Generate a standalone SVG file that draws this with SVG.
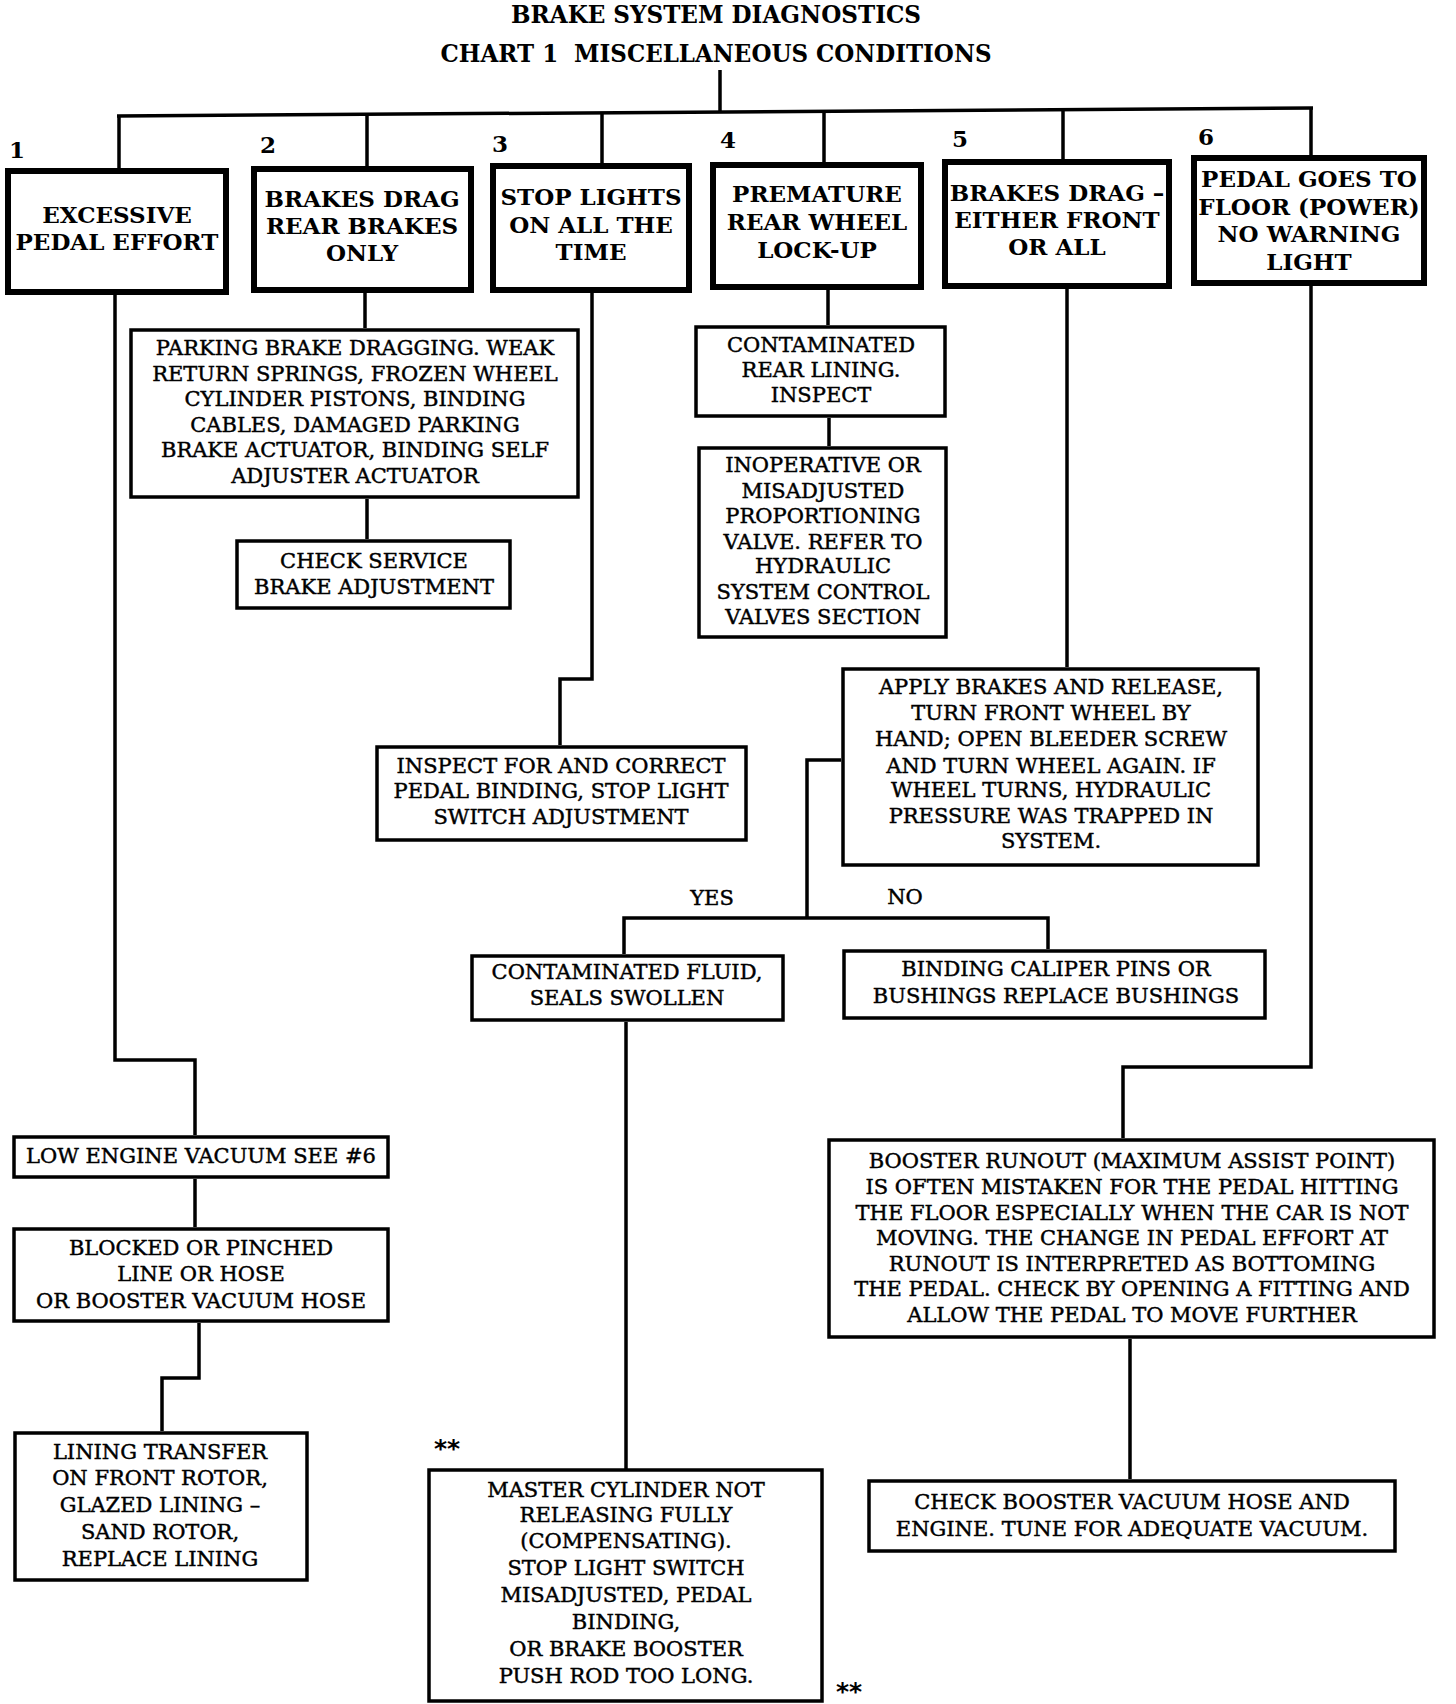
<svg xmlns="http://www.w3.org/2000/svg" width="1456" height="1704" viewBox="0 0 1456 1704">
<style>
  .bg{fill:#fff}
  .hbox{fill:#fff;stroke:#000;stroke-width:6}
  .box{fill:#fff;stroke:#000;stroke-width:3.5}
  .ln{fill:none;stroke:#000;stroke-width:3.5;stroke-linejoin:miter}
  .title{font-family:"DejaVu Serif","Liberation Serif",serif;font-weight:bold;font-size:25px;text-anchor:middle;fill:#000}
  .hd{font-family:"DejaVu Serif","Liberation Serif",serif;font-weight:bold;font-size:23px;text-anchor:middle;fill:#000}
  .num{font-family:"DejaVu Serif","Liberation Serif",serif;font-weight:bold;font-size:23px;fill:#000}
  .tx{font-family:"DejaVu Serif","Liberation Serif",serif;font-size:21px;text-anchor:middle;fill:#000;stroke:#000;stroke-width:0.45}
  .lab{font-family:"DejaVu Serif","Liberation Serif",serif;font-size:21px;text-anchor:middle;fill:#000;stroke:#000;stroke-width:0.45}
  .star{font-family:"DejaVu Sans","Liberation Sans",sans-serif;font-weight:bold;font-size:25px;fill:#000}
</style>
<rect class="bg" x="0" y="0" width="1456" height="1704"/>

<g id="title">
  <text class="title" x="716" y="23" textLength="410" lengthAdjust="spacingAndGlyphs">BRAKE SYSTEM DIAGNOSTICS</text>
  <text class="title" x="716" y="62" xml:space="preserve" textLength="551" lengthAdjust="spacingAndGlyphs">CHART 1  MISCELLANEOUS CONDITIONS</text>
</g>

<g id="connectors">
  <line class="ln" x1="720" y1="70" x2="720" y2="113"/>
  <line class="ln" x1="117" y1="116" x2="1313" y2="108"/>
  <line class="ln" x1="119" y1="116" x2="119" y2="168"/>
  <line class="ln" x1="367" y1="114" x2="367" y2="166"/>
  <line class="ln" x1="602" y1="113" x2="602" y2="163"/>
  <line class="ln" x1="824" y1="111" x2="824" y2="162"/>
  <line class="ln" x1="1063" y1="110" x2="1063" y2="159"/>
  <line class="ln" x1="1311" y1="108" x2="1311" y2="155"/>

  <polyline class="ln" points="115,295 115,1060 195,1060 195,1135"/>
  <line class="ln" x1="195" y1="1179" x2="195" y2="1227"/>
  <polyline class="ln" points="199,1323 199,1378 162,1378 162,1431"/>

  <line class="ln" x1="365" y1="293" x2="365" y2="328"/>
  <line class="ln" x1="367" y1="499" x2="367" y2="539"/>

  <polyline class="ln" points="592,293 592,679 560,679 560,745"/>

  <line class="ln" x1="828" y1="290" x2="828" y2="325"/>
  <line class="ln" x1="829" y1="418" x2="829" y2="446"/>

  <line class="ln" x1="1067" y1="289" x2="1067" y2="667"/>
  <polyline class="ln" points="841,760 807,760 807,918"/>
  <polyline class="ln" points="624,954 624,918 1048,918 1048,949"/>
  <line class="ln" x1="626" y1="1022" x2="626" y2="1469"/>

  <polyline class="ln" points="1311,286 1311,1067 1123,1067 1123,1138"/>
  <line class="ln" x1="1130" y1="1339" x2="1130" y2="1479"/>
</g>

<g id="labels">
  <text class="lab" x="712" y="905">YES</text>
  <text class="lab" x="905" y="904">NO</text>
  <text class="star" x="434" y="1457">**</text>
  <text class="star" x="836" y="1700">**</text>
</g>

<g id="h1">
  <text class="num" x="9" y="158">1</text>
  <rect class="hbox" x="8" y="171" width="218" height="121"/>
  <text class="hd" x="117" y="223">EXCESSIVE</text>
  <text class="hd" x="117" y="250">PEDAL EFFORT</text>
</g>
<g id="h2">
  <text class="num" x="260" y="153">2</text>
  <rect class="hbox" x="254" y="169" width="217" height="121"/>
  <text class="hd" x="362" y="207">BRAKES DRAG</text>
  <text class="hd" x="362" y="234">REAR BRAKES</text>
  <text class="hd" x="362" y="261">ONLY</text>
</g>
<g id="h3">
  <text class="num" x="492" y="152">3</text>
  <rect class="hbox" x="493" y="166" width="196" height="124"/>
  <text class="hd" x="591" y="205">STOP LIGHTS</text>
  <text class="hd" x="591" y="233">ON ALL THE</text>
  <text class="hd" x="591" y="260">TIME</text>
</g>
<g id="h4">
  <text class="num" x="720" y="148">4</text>
  <rect class="hbox" x="713" y="165" width="208" height="122"/>
  <text class="hd" x="817" y="202">PREMATURE</text>
  <text class="hd" x="817" y="230">REAR WHEEL</text>
  <text class="hd" x="817" y="258">LOCK-UP</text>
</g>
<g id="h5">
  <text class="num" x="952" y="147">5</text>
  <rect class="hbox" x="945" y="162" width="224" height="124"/>
  <text class="hd" x="1057" y="201">BRAKES DRAG –</text>
  <text class="hd" x="1057" y="228">EITHER FRONT</text>
  <text class="hd" x="1057" y="255">OR ALL</text>
</g>
<g id="h6">
  <text class="num" x="1198" y="145">6</text>
  <rect class="hbox" x="1194" y="158" width="230" height="125"/>
  <text class="hd" x="1309" y="187">PEDAL GOES TO</text>
  <text class="hd" x="1309" y="215">FLOOR (POWER)</text>
  <text class="hd" x="1309" y="242">NO WARNING</text>
  <text class="hd" x="1309" y="270">LIGHT</text>
</g>

<g id="parking">
  <rect class="box" x="131" y="330" width="447" height="167"/>
  <text class="tx" x="355" y="355">PARKING BRAKE DRAGGING. WEAK</text>
  <text class="tx" x="355" y="381">RETURN SPRINGS, FROZEN WHEEL</text>
  <text class="tx" x="355" y="406">CYLINDER PISTONS, BINDING</text>
  <text class="tx" x="355" y="432">CABLES, DAMAGED PARKING</text>
  <text class="tx" x="355" y="457">BRAKE ACTUATOR, BINDING SELF</text>
  <text class="tx" x="355" y="483">ADJUSTER ACTUATOR</text>
</g>
<g id="checkservice">
  <rect class="box" x="237" y="541" width="273" height="67"/>
  <text class="tx" x="374" y="568">CHECK SERVICE</text>
  <text class="tx" x="374" y="594">BRAKE ADJUSTMENT</text>
</g>
<g id="inspect">
  <rect class="box" x="377" y="747" width="369" height="93"/>
  <text class="tx" x="561" y="773">INSPECT FOR AND CORRECT</text>
  <text class="tx" x="561" y="798">PEDAL BINDING, STOP LIGHT</text>
  <text class="tx" x="561" y="824">SWITCH ADJUSTMENT</text>
</g>
<g id="rearlining">
  <rect class="box" x="696" y="327" width="249" height="89"/>
  <text class="tx" x="821" y="352">CONTAMINATED</text>
  <text class="tx" x="821" y="377">REAR LINING.</text>
  <text class="tx" x="821" y="402">INSPECT</text>
</g>
<g id="inoperative">
  <rect class="box" x="699" y="448" width="247" height="189"/>
  <text class="tx" x="823" y="472">INOPERATIVE OR</text>
  <text class="tx" x="823" y="498">MISADJUSTED</text>
  <text class="tx" x="823" y="523">PROPORTIONING</text>
  <text class="tx" x="823" y="549">VALVE. REFER TO</text>
  <text class="tx" x="823" y="573">HYDRAULIC</text>
  <text class="tx" x="823" y="599">SYSTEM CONTROL</text>
  <text class="tx" x="823" y="624">VALVES SECTION</text>
</g>
<g id="apply">
  <rect class="box" x="843" y="669" width="415" height="196"/>
  <text class="tx" x="1051" y="694">APPLY BRAKES AND RELEASE,</text>
  <text class="tx" x="1051" y="720">TURN FRONT WHEEL BY</text>
  <text class="tx" x="1051" y="746">HAND; OPEN BLEEDER SCREW</text>
  <text class="tx" x="1051" y="773">AND TURN WHEEL AGAIN. IF</text>
  <text class="tx" x="1051" y="797">WHEEL TURNS, HYDRAULIC</text>
  <text class="tx" x="1051" y="823">PRESSURE WAS TRAPPED IN</text>
  <text class="tx" x="1051" y="848">SYSTEM.</text>
</g>
<g id="fluid">
  <rect class="box" x="472" y="956" width="311" height="64"/>
  <text class="tx" x="627" y="979">CONTAMINATED FLUID,</text>
  <text class="tx" x="627" y="1005">SEALS SWOLLEN</text>
</g>
<g id="caliper">
  <rect class="box" x="844" y="951" width="421" height="67"/>
  <text class="tx" x="1056" y="976">BINDING CALIPER PINS OR</text>
  <text class="tx" x="1056" y="1003">BUSHINGS REPLACE BUSHINGS</text>
</g>
<g id="lowvacuum">
  <rect class="box" x="14" y="1137" width="374" height="40"/>
  <text class="tx" x="201" y="1163">LOW ENGINE VACUUM SEE #6</text>
</g>
<g id="blocked">
  <rect class="box" x="14" y="1229" width="374" height="92"/>
  <text class="tx" x="201" y="1255">BLOCKED OR PINCHED</text>
  <text class="tx" x="201" y="1281">LINE OR HOSE</text>
  <text class="tx" x="201" y="1308">OR BOOSTER VACUUM HOSE</text>
</g>
<g id="lining">
  <rect class="box" x="15" y="1433" width="292" height="147"/>
  <text class="tx" x="160" y="1459">LINING TRANSFER</text>
  <text class="tx" x="160" y="1485">ON FRONT ROTOR,</text>
  <text class="tx" x="160" y="1512">GLAZED LINING –</text>
  <text class="tx" x="160" y="1539">SAND ROTOR,</text>
  <text class="tx" x="160" y="1566">REPLACE LINING</text>
</g>
<g id="master">
  <rect class="box" x="429" y="1470" width="393" height="231"/>
  <text class="tx" x="626" y="1497">MASTER CYLINDER NOT</text>
  <text class="tx" x="626" y="1522">RELEASING FULLY</text>
  <text class="tx" x="626" y="1548">(COMPENSATING).</text>
  <text class="tx" x="626" y="1575">STOP LIGHT SWITCH</text>
  <text class="tx" x="626" y="1602">MISADJUSTED, PEDAL</text>
  <text class="tx" x="626" y="1629">BINDING,</text>
  <text class="tx" x="626" y="1656">OR BRAKE BOOSTER</text>
  <text class="tx" x="626" y="1683">PUSH ROD TOO LONG.</text>
</g>
<g id="booster">
  <rect class="box" x="829" y="1140" width="605" height="197"/>
  <text class="tx" x="1132" y="1168">BOOSTER RUNOUT (MAXIMUM ASSIST POINT)</text>
  <text class="tx" x="1132" y="1194">IS OFTEN MISTAKEN FOR THE PEDAL HITTING</text>
  <text class="tx" x="1132" y="1220">THE FLOOR ESPECIALLY WHEN THE CAR IS NOT</text>
  <text class="tx" x="1132" y="1245">MOVING. THE CHANGE IN PEDAL EFFORT AT</text>
  <text class="tx" x="1132" y="1271">RUNOUT IS INTERPRETED AS BOTTOMING</text>
  <text class="tx" x="1132" y="1296">THE PEDAL. CHECK BY OPENING A FITTING AND</text>
  <text class="tx" x="1132" y="1322">ALLOW THE PEDAL TO MOVE FURTHER</text>
</g>
<g id="checkbooster">
  <rect class="box" x="869" y="1481" width="526" height="70"/>
  <text class="tx" x="1132" y="1509">CHECK BOOSTER VACUUM HOSE AND</text>
  <text class="tx" x="1132" y="1536">ENGINE. TUNE FOR ADEQUATE VACUUM.</text>
</g>
</svg>
